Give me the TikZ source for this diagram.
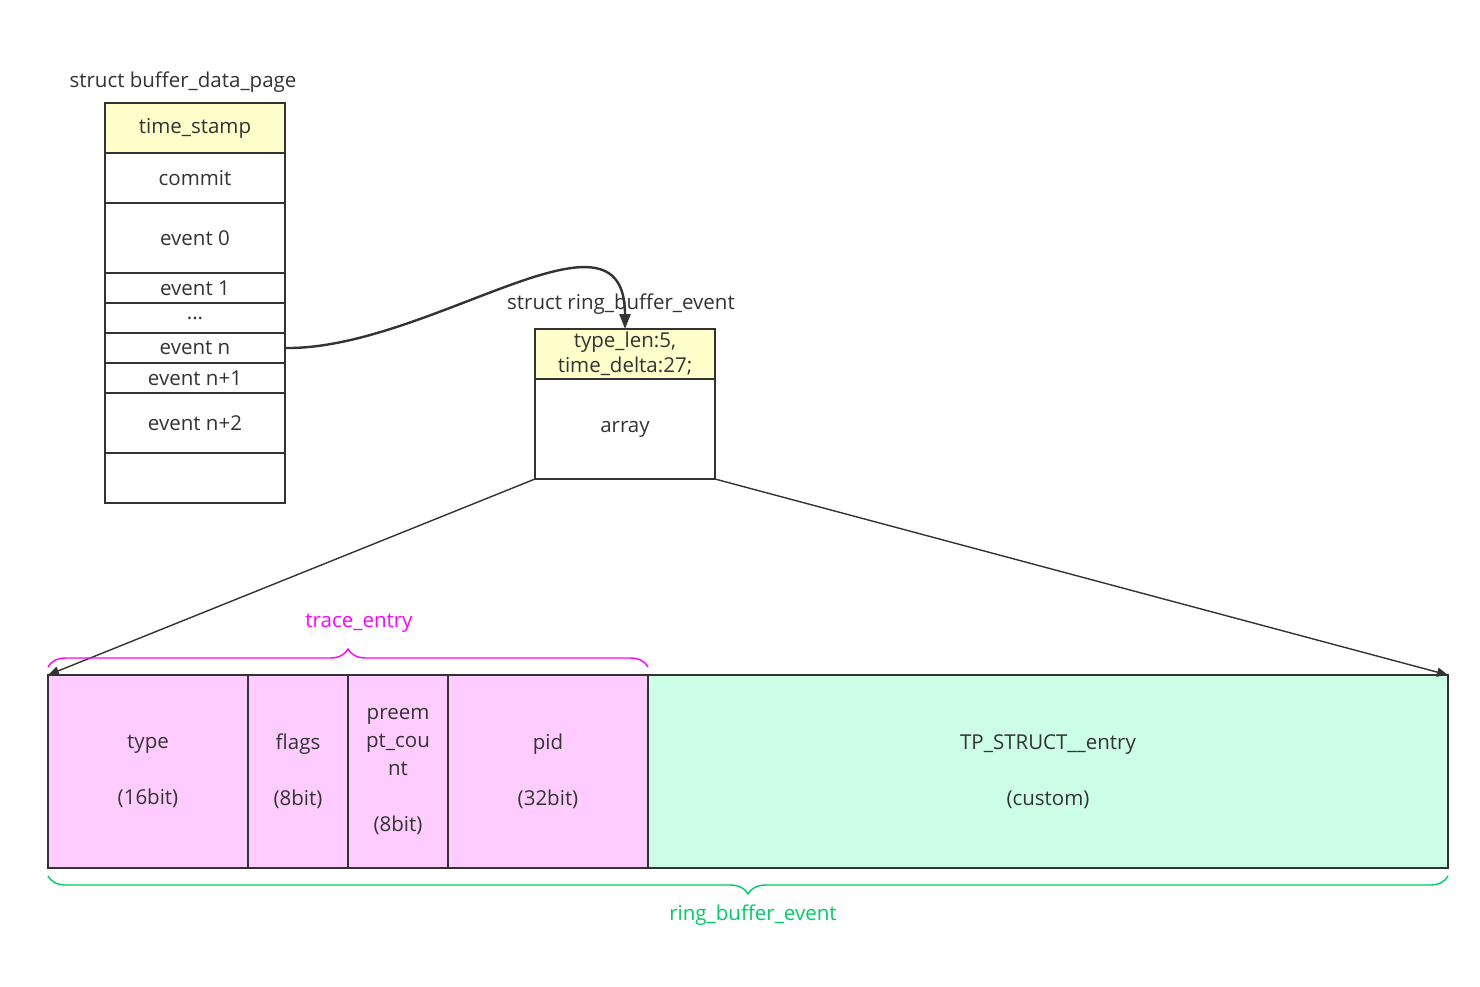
\documentclass[tikz,border=0pt]{standalone}
\usepackage{fontspec}
\setmainfont{Open Sans}
\usetikzlibrary{positioning,arrows.meta,decorations.pathreplacing}
\definecolor{LineGray}{RGB}{51,51,51}
\definecolor{HeadYellow}{RGB}{255,255,204}
\definecolor{FieldPink}{RGB}{255,204,255}
\definecolor{FieldGreen}{RGB}{204,255,230}
\definecolor{BraceMagenta}{RGB}{255,0,255}
\definecolor{BraceGreen}{RGB}{0,204,102}
\tikzset{
	cell/.style={draw=LineGray,line width=1.5pt,minimum width=180pt,inner sep=0pt,outer sep=0pt,
		text=LineGray,align=center},
	field/.style={cell,minimum height=193pt,font=\fontsize{20.5}{28}\selectfont},
	link/.style={draw=LineGray,line width=1.4pt,-{Triangle[length=11pt,width=9pt]}},
	title/.style={text=LineGray,inner sep=0pt},
	brace/.style={decorate,line width=1.4pt,decoration={brace,amplitude=18pt}},
}

\begin{document}
\begin{tikzpicture}[x=1pt,y=-1pt,font=\fontsize{20.5}{25}\selectfont]
			\useasboundingbox[fill=white] (0,0) rectangle (1480,986);
			% buffer data page
			\node[title] (pagetitle) at (183,82) {struct buffer\_data\_page};
			\node[cell,fill=HeadYellow,minimum height=50pt] (stamp) at (195,128) {time\_stamp};
			\node[cell,minimum height=50pt,below=0pt of stamp] (commit) {commit};
			\node[cell,minimum height=70pt,below=0pt of commit] (ev0) {event 0};
			\node[cell,minimum height=30pt,below=0pt of ev0] (ev1) {event 1};
			\node[cell,minimum height=30pt,below=0pt of ev1] (evdots) {...};
			\node[cell,minimum height=30pt,below=0pt of evdots] (evn) {event n};
			\node[cell,minimum height=30pt,below=0pt of evn] (evn1) {event n+1};
			\node[cell,minimum height=60pt,below=0pt of evn1] (evn2) {event n+2};
			\node[cell,minimum height=50pt,below=0pt of evn2] (free) {};
			% ring buffer event
			\node[title] (eventtitle) at (621,304) {struct ring\_buffer\_event};
			\node[cell,fill=HeadYellow,minimum height=50pt] (head) at (625,354) {type\_len:5,\\time\_delta:27;};
			\node[cell,minimum height=100pt,below=0pt of head] (arr) {array};
			\draw[LineGray,line width=2.4pt,-{Triangle[length=15pt,width=11pt]}]
				(evn.east) .. controls (430,350) and (625,190) .. (head.north);
			% entry layout
			\node[field,fill=FieldPink,minimum width=200pt] (type) at (148,771.5) {type\\\\(16bit)};
			\node[field,fill=FieldPink,minimum width=100pt,right=0pt of type] (flags) {flags\\\\(8bit)};
			\node[field,fill=FieldPink,minimum width=100pt,right=0pt of flags] (preempt) {preem\\pt\_cou\\nt\\\\(8bit)};
			\node[field,fill=FieldPink,minimum width=200pt,right=0pt of preempt] (pid) {pid\\\\(32bit)};
			\node[field,fill=FieldGreen,minimum width=800pt,right=0pt of pid] (custom) {TP\_STRUCT\_\_entry\\\\(custom)};
			\draw[link] (arr.south west) -- (type.north west);
			\draw[link] (arr.south east) -- (custom.north east);
			% braces
			\draw[brace,BraceMagenta] (48,667) -- (648,667);
			\node[title,text=BraceMagenta] (tracelabel) at (359,623) {trace\_entry};
			\draw[brace,BraceGreen] (1448,876) -- (48,876);
			\node[title,text=BraceGreen] (ringlabel) at (753,915) {ring\_buffer\_event};
		\end{tikzpicture}
\end{document}
